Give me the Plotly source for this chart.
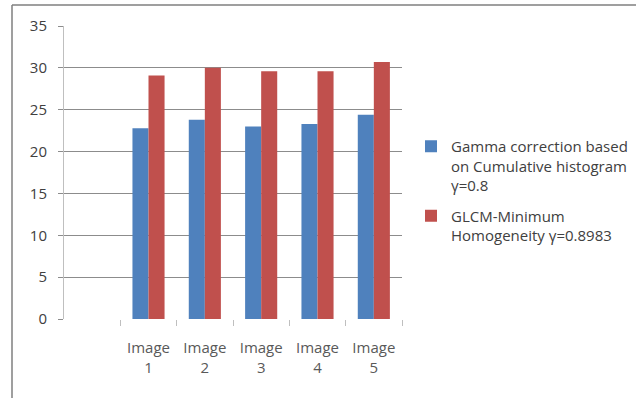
import plotly.graph_objects as go

categories = ["Image 1", "Image 2", "Image 3", "Image 4", "Image 5"]
tick_labels = ["Image<br>1", "Image<br>2", "Image<br>3", "Image<br>4", "Image<br>5"]
gamma_cumhist = [22.8, 23.8, 23.0, 23.3, 24.4]
glcm_min_homog = [29.1, 30.0, 29.6, 29.6, 30.7]
series_names = ["Gamma correction based<br>on Cumulative histogram<br>γ=0.8",
                "GLCM-Minimum<br>Homogeneity γ=0.8983"]
y_ticks = [0, 5, 10, 15, 20, 25, 30, 35]

# one empty leading slot before Image 1
xpos = [i + 1 for i in range(len(categories))]
boundaries = [i + 0.5 for i in range(len(categories) + 1)]

W, H = 636, 398
ML, MR, MT, MB = 64, 234, 26, 79
FONT = "Open Sans"
grid = "#8c8c8c"

fig = go.Figure()
fig.add_trace(go.Bar(x=xpos, y=gamma_cumhist, name=series_names[0], legendgroup="g1",
                     marker=dict(color="#4F81BD", line=dict(width=0))))
fig.add_trace(go.Bar(x=xpos, y=glcm_min_homog, name=series_names[1], legendgroup="g2",
                     marker=dict(color="#C0504D", line=dict(width=0))))
# invisible trace on overlay axis to carry boundary tick marks
fig.add_trace(go.Scatter(x=[boundaries[0], boundaries[-1]], y=[0, 0], xaxis="x2",
                         mode="markers", marker=dict(opacity=0), showlegend=False,
                         hoverinfo="skip"))

pw = W - ML - MR
ph = H - MT - MB
fx = lambda px: (px - ML) / pw
fy = lambda py: (H - MB - py) / ph

fig.update_layout(
    width=W, height=H,
    margin=dict(l=ML, r=MR, t=MT, b=MB, autoexpand=False),
    paper_bgcolor="white", plot_bgcolor="white",
    barmode="group", bargap=0.43, bargroupgap=0,
    font=dict(family=FONT, size=15, color="#404040"),
    xaxis=dict(range=[-0.5, 5.5], tickvals=xpos, ticktext=tick_labels,
               ticks="", showgrid=False, showline=False, zeroline=False,
               tickfont=dict(family=FONT, size=15, color="#595959"),
               ticklabelstandoff=18),
    xaxis2=dict(range=[-0.5, 5.5], overlaying="x", tickvals=boundaries,
                showticklabels=False, ticks="outside", ticklen=6, tickcolor="#bfbfbf",
                showgrid=False, zeroline=False, showline=False),
    yaxis=dict(range=[0, 35], tickvals=y_ticks, showgrid=True, gridcolor=grid,
               gridwidth=1, zeroline=True, zerolinecolor="rgba(0,0,0,0)",
               showline=True, linecolor="#bfbfbf", linewidth=1,
               ticks="outside", ticklen=5, tickcolor=grid,
               tickfont=dict(family=FONT, size=15, color="#404040"),
               ticklabelstandoff=8),
    legend=dict(x=fx(411), xanchor="left", y=fy(130), yanchor="top",
                font=dict(family=FONT, size=15, color="#404040"),
                bgcolor="rgba(0,0,0,0)", itemwidth=30, valign="top",
                tracegroupgap=8),
    shapes=[
        dict(type="line", xref="paper", yref="paper", x0=fx(12), x1=fx(W + 5),
             y0=fy(5), y1=fy(5), line=dict(color="#7f7f7f", width=1.5)),
        dict(type="line", xref="paper", yref="paper", x0=fx(12), x1=fx(12),
             y0=fy(5), y1=fy(H + 5), line=dict(color="#7f7f7f", width=1.5)),
    ],
)
fig.write_html("out.html")
